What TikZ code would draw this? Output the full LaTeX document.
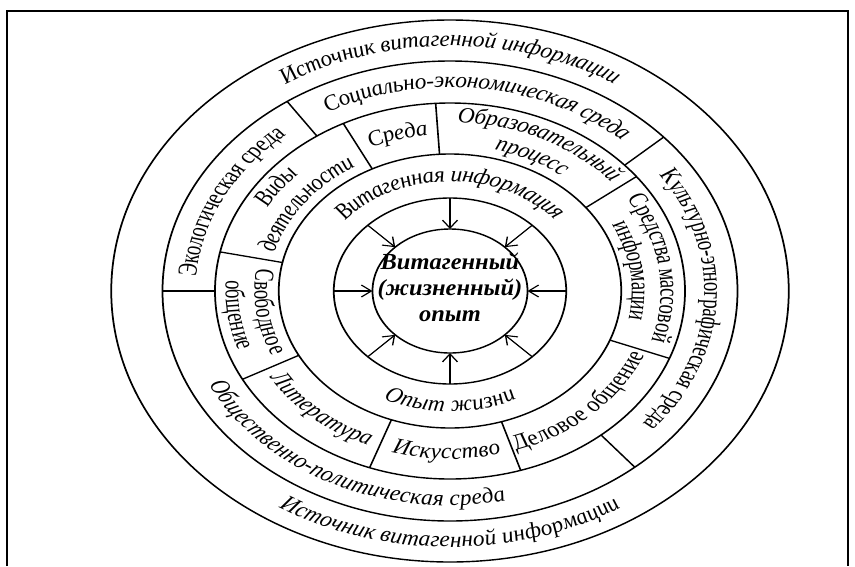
\documentclass[tikz,border=0pt]{standalone}
\usepackage{fontspec}
\setmainfont{Liberation Serif}[FakeStretch=0.85]
\usetikzlibrary{decorations.text,arrows.meta}
\newcommand\labit{\itshape\fontsize{22}{24}\selectfont}
\newcommand\labup{\upshape\fontsize{22}{24}\selectfont}
% radius, start angle, end angle, font, text
\newcommand\arclab[5]{\path[decorate,decoration={text along path,text align=center,raise=-5.5pt,text={|#4|#5}}] (#2:#1) arc[start angle=#2,end angle=#3,radius=#1];}
\begin{document}
\begin{tikzpicture}[x=1pt,y=1pt,
  ring/.style={line width=1.4pt},
  divider/.style={line width=1.3pt},
  arr/.style={line width=1.1pt,-{Straight Barb[length=8pt,width=12pt,line width=1.1pt]}}]
\useasboundingbox (0,0) rectangle (855,-566);
\fill[white] (0,0) rectangle (855,-566);
\draw[line width=2pt] (7,-566) -- (7,-11) -- (848,-11) -- (848,-566);
\begin{scope}[transform canvas={xshift=450pt,yshift=-291pt,xscale=1.25}]
  \foreach \rr in {271,230,188,137,93,62} \draw[ring] (0,0) circle[radius=\rr];
  \foreach \ang in {124.5,42,-50,180} \draw[divider] (\ang:230) -- (\ang:188);
  \foreach \ang in {168,117,93.5,37.5,-21,-72.5,-110,-152} \draw[divider] (\ang:188) -- (\ang:137);
  \foreach \ang in {0,45,...,315} \draw[arr] (\ang:93) -- (\ang:62);
  \arclab{250.5}{150}{30}{\labit}{Источник витагенной информации}
  \arclab{250.5}{-150}{-30}{\labit}{Источник витагенной информации}
  \arclab{209}{143}{23}{\labit}{Социально-экономическая среда}
  \arclab{209}{42}{-48}{\labup}{Культурно-этнографическая среда}
  \arclab{209}{-170}{-62}{\labit}{Общественно-политическая среда}
  \arclab{209}{200}{106}{\labup}{Экологическая среда}
  \arclab{174}{170}{116}{\labit}{Виды}
  \arclab{151}{170}{116}{\labit}{деятельности}
  \arclab{162.5}{125}{85}{\labit}{Среда}
  \arclab{174}{94}{34}{\labit}{Образовательный}
  \arclab{151}{94}{34}{\labit}{процесс}
  \arclab{174}{38}{-22}{\labup}{Средства массовой}
  \arclab{151}{38}{-22}{\labup}{информации}
  \arclab{162.5}{-77}{-17}{\labup}{Деловое общение}
  \arclab{162.5}{-111}{-71}{\labit}{Искусство}
  \arclab{162.5}{-156}{-106}{\labit}{Литература}
  \arclab{151}{163}{213}{\labup}{Свободное}
  \arclab{174}{163}{213}{\labup}{общение}
  \arclab{115}{160}{20}{\labit}{Витагенная информация}
  \arclab{115}{-150}{-30}{\labit}{Опыт жизни}
  \node[font=\bfseries\itshape\fontsize{23}{26}\selectfont,align=center,inner sep=0pt] (core) at (0,4) {Витагенный\\(жизненный)\\опыт};
\end{scope}
\end{tikzpicture}
\end{document}
